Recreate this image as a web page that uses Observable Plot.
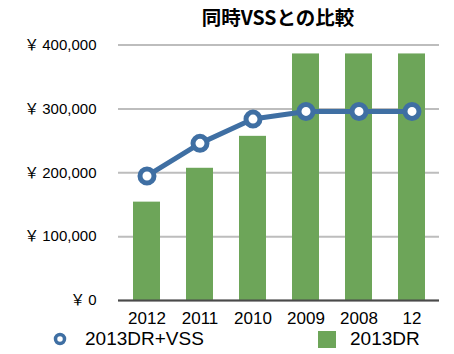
<!DOCTYPE html>
<html>
<head>
<meta charset="utf-8">
<script src="https://cdn.jsdelivr.net/npm/d3@7"></script>
<script src="https://cdn.jsdelivr.net/npm/@observablehq/plot@0.6"></script>
<style>
  html, body { margin: 0; padding: 0; background: #fff; }
  #wrap { width: 454px; height: 354px; position: relative; font-family: "Liberation Sans", "Noto Sans CJK JP", sans-serif; }
  #title { height: 36px; line-height: 34px; font-family: "Noto Sans CJK JP", sans-serif; font-weight: bold; font-size: 19.5px; text-align: center; padding-left: 102px; box-sizing: border-box; width: 454px; color: #000; }
  #legend { position: absolute; left: 0; top: 328px; width: 454px; height: 26px; font-size: 19px; color: #000; }
  .lg { position: absolute; top: 0; height: 22px; line-height: 22px; display: flex; align-items: center; }
</style>
</head>
<body>
<div id="wrap">
  <div id="title">同時VSSとの比較</div>
  <div id="chart"></div>
  <div id="legend"></div>
</div>
<script>
const years = ["2012", "2011", "2010", "2009", "2008", "12"];
const dr = [154000, 207000, 257000, 386000, 386000, 386000];
const drVss = [195000, 246000, 284000, 296000, 296000, 296000];
const yTicks = [0, 100000, 200000, 300000, 400000];
const seriesNames = ["2013DR+VSS", "2013DR"];
const lineColor = "#3f6fa3";
const barColor = "#6da559";

const data = years.map((y, i) => ({year: y, dr: dr[i], drVss: drVss[i]}));

const chart = Plot.plot({
  width: 454,
  height: 292,
  marginTop: 8.5,
  marginBottom: 28,
  marginLeft: 118,
  marginRight: 15,
  style: {fontFamily: "'Liberation Sans', 'Noto Sans CJK JP', sans-serif", fontSize: "15px", color: "#000", background: "#fff"},
  x: {domain: years, paddingInner: 0.5, paddingOuter: 0.25, label: null},
  y: {domain: [0, 400000], label: null},
  marks: [
    Plot.gridY(yTicks, {stroke: "#bdbdbd", strokeOpacity: 1, strokeWidth: 2}),
    Plot.barY(data, {x: "year", y: "dr", fill: barColor}),
    Plot.ruleY([0], {stroke: "#4a4a4a", strokeWidth: 2}),
    Plot.lineY(data, {x: "year", y: "drVss", stroke: lineColor, strokeWidth: 5}),
    Plot.dot(data, {x: "year", y: "drVss", r: 7, stroke: lineColor, strokeWidth: 5, fill: "#fff"}),
    Plot.axisY(yTicks, {tickSize: 0, tickPadding: 22, tickFormat: d => "￥\u2009" + d3.format(",")(d), fontSize: 15}),
    Plot.axisX({tickSize: 0, tickPadding: 11, fontSize: 17})
  ]
});
document.getElementById("chart").appendChild(chart);
chart.style.display = "block";

const legend = document.getElementById("legend");
legend.innerHTML =
  `<div class="lg" style="left:53px"><svg width="14" height="14" style="margin-right:18px"><circle cx="7" cy="7" r="4.5" fill="#fff" stroke="${lineColor}" stroke-width="3.5"/></svg><span>${seriesNames[0]}</span></div>` +
  `<div class="lg" style="left:318px"><svg width="18" height="17" style="margin-right:14px"><rect width="18" height="17" fill="${barColor}"/></svg><span>${seriesNames[1]}</span></div>`;
</script>
</body>
</html>
